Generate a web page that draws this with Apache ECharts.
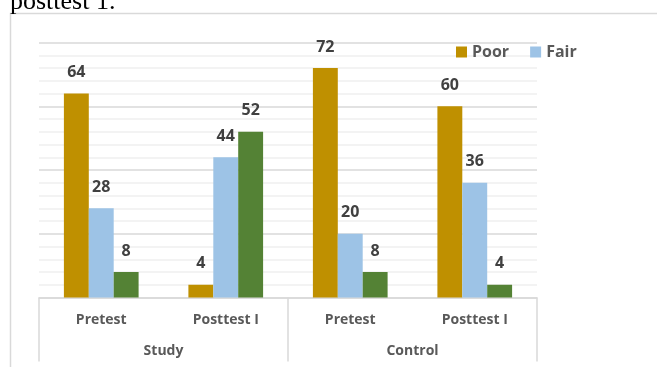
<!DOCTYPE html>
<html>
<head>
<meta charset="utf-8">
<script src="https://cdn.jsdelivr.net/npm/echarts@6/dist/echarts.min.js"></script>
<style>
  html, body { margin: 0; padding: 0; background: #ffffff; }
  #chart { width: 657px; height: 367px; }
</style>
</head>
<body>
<div id="chart"></div>
<script>
// Groups (outer axis level) and test phases (inner axis level)
const groups = ['Study', 'Control'];
const phases = ['Pretest', 'Posttest I'];

// Percent of patients per rating, in order Study-Pretest, Study-Posttest I, Control-Pretest, Control-Posttest I
const poor = [64, 4, 72, 60];
const fair = [28, 44, 20, 36];
const good = [8, 52, 8, 4];

const seriesNames = ['Poor', 'Fair', 'Good'];
const legendNames = ['Poor', 'Fair'];

// Value axis ticks
const yMin = 0;
const yMax = 80;
const yStep = 20;

const categoryKeys = groups.flatMap(g => phases.map(p => g + '|' + p));

const FONT = '"Open Sans", "DejaVu Sans", sans-serif';
const colors = ['#BF9000', '#9DC3E6', '#548235'];

const labelStyle = {
  show: true,
  position: 'top',
  distance: 13,
  fontFamily: FONT,
  fontWeight: 'bold',
  fontSize: 16,
  color: '#404040'
};

const chart = echarts.init(document.getElementById('chart'), null, { renderer: 'canvas' });

chart.setOption({
  backgroundColor: '#ffffff',
  animation: false,
  color: colors,
  graphic: [
    {
      type: 'rect',
      silent: true,
      shape: { x: 10.5, y: 13.5, width: 700, height: 400 },
      style: { fill: null, stroke: '#d9d9d9', lineWidth: 1.5 }
    },
    {
      type: 'text',
      silent: true,
      style: {
        x: 10,
        y: 2,
        text: 'posttest 1.',
        font: '26px "Liberation Serif", "DejaVu Serif", serif',
        fill: '#000000',
        verticalAlign: 'middle'
      }
    }
  ],
  legend: {
    data: legendNames,
    left: 451,
    top: 39,
    itemWidth: 11,
    itemHeight: 11,
    itemGap: 21,
    icon: 'rect',
    textStyle: { fontFamily: FONT, fontWeight: 'bold', fontSize: 16, color: '#595959' }
  },
  grid: { left: 39, right: 120, top: 42.5, bottom: 69.5, containLabel: false },
  xAxis: [
    {
      type: 'category',
      data: categoryKeys,
      position: 'bottom',
      axisLine: { show: true, lineStyle: { color: '#d9d9d9', width: 1.5 } },
      axisTick: { show: false },
      splitLine: { show: false },
      axisLabel: {
        interval: 0,
        margin: 16,
        formatter: v => v.split('|')[1],
        fontFamily: FONT,
        fontWeight: 'bold',
        fontSize: 14,
        color: '#595959'
      }
    },
    {
      type: 'category',
      data: groups,
      position: 'bottom',
      axisLine: { show: false },
      axisTick: { show: true, length: 64, lineStyle: { color: '#d9d9d9', width: 1.5 } },
      splitLine: { show: false },
      axisLabel: {
        interval: 0,
        margin: 47,
        fontFamily: FONT,
        fontWeight: 'bold',
        fontSize: 14,
        color: '#595959'
      }
    }
  ],
  yAxis: {
    type: 'value',
    min: yMin,
    max: yMax,
    interval: yStep,
    axisLine: { show: false },
    axisTick: { show: false },
    axisLabel: { show: false },
    splitLine: { show: true, lineStyle: { color: '#d9d9d9', width: 1.5 } },
    minorTick: { show: false, splitNumber: 5 },
    minorSplitLine: { show: true, lineStyle: { color: '#efefef', width: 1.5 } }
  },
  series: [poor, fair, good].map((vals, i) => ({
    name: seriesNames[i],
    type: 'bar',
    xAxisIndex: 0,
    barWidth: '20%',
    barGap: '0%',
    data: vals,
    itemStyle: { color: colors[i] },
    label: labelStyle
  }))
});
</script>
</body>
</html>
